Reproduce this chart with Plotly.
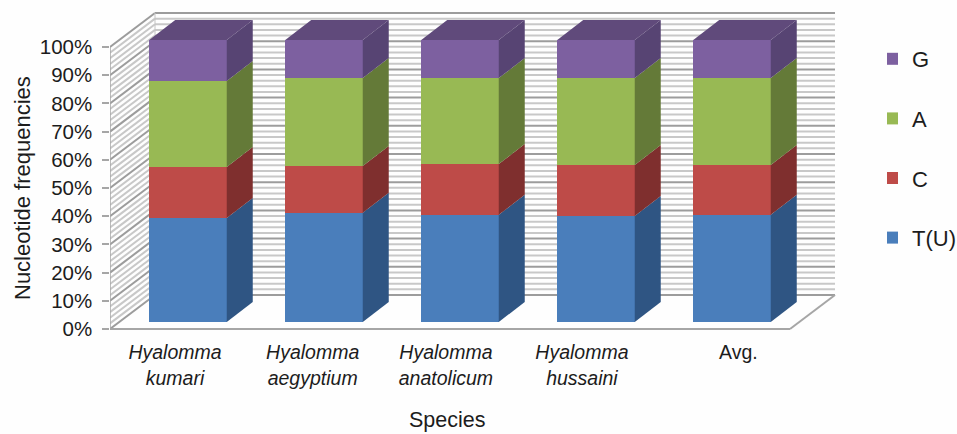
import plotly.graph_objects as go

species = ["<i>Hyalomma<br>kumari</i>", "<i>Hyalomma<br>aegyptium</i>", "<i>Hyalomma<br>anatolicum</i>",
           "<i>Hyalomma<br>hussaini</i>", "Avg."]
label_pos = [0.478, 1.49, 2.47, 3.47, 4.62]
t_u = [36.9, 38.7, 38.0, 37.6, 38.0]
c = [18.1, 16.6, 18.0, 18.1, 17.7]
a = [30.5, 31.2, 30.5, 30.8, 30.8]
g = [14.5, 13.5, 13.5, 13.5, 13.5]
series = [("T(U)", t_u, "#4a7ebb", "#2f5583", 4), ("C", c, "#be4b48", "#7f2f2e", 3),
          ("A", a, "#98b954", "#647a38", 2), ("G", g, "#7d60a0", "#574473", 1)]
top_colour = "#604a7b"
y_ticks = list(range(0, 101, 10))
stripes = list(range(0, 101, 2))

PX_X, PX_Y = 136.0, 2.82
wall_dx, wall_dy = 45 / PX_X, 34 / PX_Y      # depth of the chart box
off_dx, off_dy = 10 / PX_X, 7 / PX_Y         # gap between box front and bars
bar_dx, bar_dy = 26 / PX_X, 20 / PX_Y        # depth of one bar
bar_w = 77.5 / PX_X
Y_LOW = -4 / PX_Y

fig = go.Figure()
centres = [i + 0.5 + off_dx for i in range(5)]
right = [x + bar_w / 2 for x in centres]
left = [x - bar_w / 2 for x in centres]
base = [off_dy] * 5
tops = base
for name, vals, col, side, rank in series:
    tops = [b + v for b, v in zip(base, vals)]
    fig.add_trace(go.Bar(x=centres, y=vals, base=base, width=bar_w, name=name, marker=dict(color=col, line_width=0),
                         legendgroup=name, legendrank=rank))
    for x, b, t in zip(right, base, tops):
        fig.add_trace(go.Scatter(x=[x, x + bar_dx, x + bar_dx, x, x], y=[b, b + bar_dy, t + bar_dy, t, b],
                                 mode="none", fill="toself", fillcolor=side, showlegend=False, hoverinfo="skip"))
    base = tops
for l, r, t in zip(left, right, tops):
    fig.add_trace(go.Scatter(x=[l, r, r + bar_dx, l + bar_dx, l], y=[t, t, t + bar_dy, t + bar_dy, t],
                             mode="none", fill="toself", fillcolor=top_colour, showlegend=False, hoverinfo="skip"))

shapes = []
def line(x0, y0, x1, y1, colour, w):
    shapes.append(dict(type="line", xref="x", yref="y", x0=x0, y0=y0, x1=x1, y1=y1, layer="below",
                       line=dict(color=colour, width=w)))
for v in stripes:
    major = v % 10 == 0
    colour, w = ("#9c9c9c", 2) if major else ("#c8c8c8", 2)
    line(0, v, wall_dx, v + wall_dy, colour, w)
    line(wall_dx, v + wall_dy, 5 + wall_dx, v + wall_dy, colour, w)
line(0, 0, 0, 100, "#a6a6a6", 1.5)
line(wall_dx, wall_dy, wall_dx, 100 + wall_dy, "#c4c4c4", 1)
line(5, 0, 5 + wall_dx, wall_dy, "#a6a6a6", 2)
line(0, 0, 5, 0, "#a6a6a6", 2)

axis_font = dict(family="Liberation Sans", size=19.5, color="#1c1c1c")
fig.update_layout(
    template="none", width=957, height=434, barmode="overlay", bargap=0,
    margin=dict(l=110, r=117, t=10, b=101, autoexpand=False),
    paper_bgcolor="#fefefe", plot_bgcolor="rgba(0,0,0,0)", shapes=shapes,
    font=axis_font,
    xaxis=dict(range=[0, 730 / PX_X], tickmode="array", tickvals=label_pos, ticktext=species, showgrid=False,
               zeroline=False, showline=False, ticks="outside", ticklen=2,
               tickcolor="rgba(0,0,0,0)", tickfont=axis_font),
    yaxis=dict(range=[Y_LOW, 319 / PX_Y], tickmode="array", tickvals=y_ticks,
               ticktext=[f"{v}%\u00a0" for v in y_ticks],
               showgrid=False, zeroline=False, showline=False, ticks="outside", ticklen=7, tickwidth=1.5,
               tickcolor="#a6a6a6", tickfont=dict(family="Liberation Sans", size=20.5, color="#1c1c1c")),
    legend=dict(x=(887 - 110) / 730, xanchor="left", y=1 - (38 - 10) / 323, yanchor="top",
                traceorder="grouped", tracegroupgap=28, indentation=-15,
                font=dict(family="Liberation Sans", size=22, color="#1c1c1c"), bgcolor="rgba(0,0,0,0)"),
    annotations=[
        dict(text="Species", xref="x", yref="y", x=2.48, y=0, yshift=-91, yanchor="middle", showarrow=False,
             font=dict(family="Liberation Sans", size=21.5, color="#1c1c1c")),
        dict(text="Nucleotide frequencies", xref="paper", yref="y", x=0, xshift=-88, xanchor="center", y=50,
             yanchor="middle", textangle=-90, showarrow=False,
             font=dict(family="Liberation Sans", size=22, color="#1c1c1c")),
    ],
)
fig.write_html("out.html", config={"displayModeBar": False},
               post_script="document.body.style.margin='0';document.body.style.overflow='hidden';")
